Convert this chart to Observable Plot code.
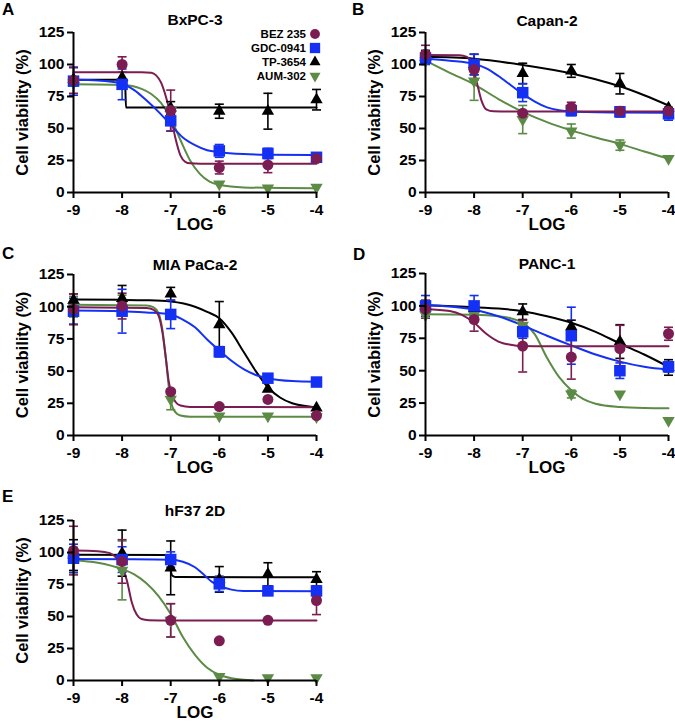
<!DOCTYPE html>
<html>
<head>
<meta charset="utf-8">
<script src="https://cdn.jsdelivr.net/npm/d3@7"></script>
<script src="https://cdn.jsdelivr.net/npm/@observablehq/plot@0.6"></script>
<style>
  html, body { margin: 0; padding: 0; background: #fff; }
  body { font-family: "Liberation Sans", Arial, sans-serif; }
  #root { position: relative; width: 675px; height: 722px; overflow: hidden; }
  .panel { position: absolute; }
  .letter { position: absolute; font-weight: bold; font-size: 17px; line-height: 17px; }
  .legend { position: absolute; font-weight: bold; font-size: 11.5px; }
  .legend .row { display: flex; justify-content: flex-end; align-items: center; height: 14px; }
  .legend svg { margin-left: 2px; }
</style>
</head>
<body>
<div id="root"></div>
<script>
// ---------------- data ----------------
const doses = [-9, -8, -7, -6, -5, -4];
const yTicks = [0, 25, 50, 75, 100, 125];
const drugs = ["BEZ 235", "GDC-0941", "TP-3654", "AUM-302"];
const drugColors = ["#7b1d52", "#1430f5", "#000000", "#5b8b45"];
const cellLines = ["BxPC-3", "Capan-2", "MIA PaCa-2", "PANC-1", "hF37 2D"];
const panelLetters = ["A", "B", "C", "D", "E"];
const xLabel = "LOG";
const yLabel = "Cell viability (%)";

// order of rows in each array: BEZ 235, GDC-0941, TP-3654, AUM-302
const bxpc3Mean = [
  [87.5, 100, 64, 19.5, 21.5, 26.5],
  [87, 84.5, 56, 32.5, 30.5, 27.5],
  [88.5, 90, 66, 63.5, 63.5, 72.5],
  [85.5, 85, 64, 6.5, 3.5, 4]
];
const bxpc3Err = [
  [10, 6, 16, 5, 6, 2],
  [11, 12, 8, 5, 4, 2],
  [0, 0, 5, 5.5, 14, 8],
  [0, 0, 0, 0, 0, 0]
];
const bxpc3Fit = [
  [[-9,94],[-7.6,94],[-7.4,93.5],[-7.3,91.5],[-7.2,86],[-7.1,75],[-7.0,60],[-6.9,42],[-6.8,29],[-6.7,24],[-6.6,22.8],[-6.4,22.5],[-4,22.5]],
  [[-9,88],[-8.5,87.5],[-8,85],[-7.75,80],[-7.5,72],[-7.25,63],[-7,53],[-6.75,43],[-6.5,37],[-6.25,33],[-6,31.5],[-5.5,30],[-5,29.5],[-4,29.3]],
  [[-9,88],[-7.94,88],[-7.92,66.5],[-4,66.5]],
  [[-9,84.5],[-8,84],[-7.6,81],[-7.4,77],[-7.2,70],[-7.0,58],[-6.8,41],[-6.6,25],[-6.4,14.5],[-6.2,8.5],[-6,6],[-5.5,4],[-4,3.3]]
];

const capan2Mean = [
  [108, 96, 62, 66.5, 63.5, 63.5],
  [105, 100, 78, 64, 63, 61.5],
  [106, 100, 93, 95, 85, 66],
  [103, 87, 57, 48, 37, 26.5]
];
const capan2Err = [
  [7, 8, 0, 4, 3, 3],
  [5, 8, 7, 4, 4, 5],
  [5, 8, 8, 5, 8, 0],
  [0, 15, 11, 5.5, 4, 0]
];
const capan2Fit = [
  [[-9,107.5],[-8.3,107.3],[-8.15,106],[-8.05,101],[-7.95,87],[-7.85,72],[-7.75,65],[-7.6,63.4],[-7.3,63.2],[-4,63.2]],
  [[-9,104.5],[-8.5,103],[-8,100.5],[-7.75,97],[-7.5,91],[-7.25,84],[-7,77],[-6.75,71],[-6.5,66.5],[-6.25,64.2],[-6,63.3],[-5,62.5],[-4,62.3]],
  [[-9,106],[-8,104.5],[-7,99.6],[-6,93],[-5.5,88.5],[-5,83],[-4.5,76],[-4,68]],
  [[-9,103],[-8.5,93.5],[-8,84.5],[-7.5,73],[-7,63],[-6.5,55],[-6,48.5],[-5.5,43],[-5,38],[-4.5,32],[-4,26.5]]
];

const miaMean = [
  [98, 100.5, 34, 22.5, 28, 15.5],
  [96.5, 96.5, 94, 65, 44.5, 41.5],
  [105, 106.5, 110, 86, 36, 21.5],
  [100, 102, 28, 15, 15, 14.5]
];
const miaErr = [
  [12, 10, 0, 0, 0, 0],
  [10, 17, 11, 4, 3, 0],
  [5, 10, 5, 18, 0, 0],
  [8, 7, 8, 0, 0, 0]
];
const miaFit = [
  [[-9,99.5],[-7.5,99],[-7.35,97.5],[-7.25,93],[-7.17,80],[-7.1,60],[-7.04,42],[-6.98,32],[-6.9,26],[-6.8,23.3],[-6.6,22.2],[-4,22]],
  [[-9,97],[-8,96.5],[-7.5,95.5],[-7,94],[-6.75,90],[-6.5,84],[-6.25,74.5],[-6,66],[-5.75,58],[-5.5,51.5],[-5.25,47],[-5,44.5],[-4.5,42.3],[-4,41.8]],
  [[-9,105.5],[-8,105.3],[-7.5,105],[-7,104],[-6.5,100],[-6.25,96],[-6,91],[-5.75,80],[-5.5,65],[-5.25,50],[-5,37.5],[-4.75,29.5],[-4.5,25],[-4,21.8]],
  [[-9,101.5],[-7.5,101],[-7.35,99.5],[-7.25,95],[-7.17,82],[-7.1,60],[-7.04,38],[-6.98,24],[-6.9,18],[-6.8,15.5],[-6.6,14.6],[-4,14.5]]
];

const panc1Mean = [
  [97.5, 89.5, 69, 60.5, 67, 78.5],
  [100, 100, 80, 77, 50, 53],
  [100, 98, 95.5, 84, 72.5, 52.5],
  [93, 93, 85, 32, 32, 11.5]
];
const panc1Err = [
  [7, 9, 20, 17, 18, 5],
  [8, 8, 5, 22, 6, 4],
  [0, 0, 6, 5, 13, 6],
  [0, 0, 0, 3, 0, 0]
];
const panc1Fit = [
  [[-9,97.5],[-8.5,96],[-8.25,93],[-8,87],[-7.75,78.5],[-7.5,72.5],[-7.25,70],[-7,69],[-6.5,68.8],[-4,68.8]],
  [[-9,100.5],[-8.5,99.5],[-8,97],[-7.5,92],[-7,85],[-6.5,77],[-6,69.5],[-5.5,62.5],[-5,57],[-4.5,53],[-4,50.8]],
  [[-9,100.5],[-8,99],[-7,95.9],[-6.5,92],[-6,87],[-5.5,80],[-5,71],[-4.5,62.5],[-4,53]],
  [[-9,93.5],[-8,93.2],[-7.5,92],[-7.25,90.5],[-7,87],[-6.75,78],[-6.5,60],[-6.25,45],[-6,35],[-5.75,28],[-5.5,24.5],[-5,22],[-4.5,21.2],[-4,21]]
];

const hf37Mean = [
  [101.5, 93, 47, 31, 47, 62.5],
  [95.5, 94.5, 94.5, 75.5, 70, 70],
  [98, 99.5, 88, 79, 83, 79],
  [94, 86, 47, 3, 2, 2]
];
const hf37Err = [
  [19, 17, 13, 0, 0, 11],
  [11, 10, 6, 6, 3, 4],
  [12, 18, 21, 10, 9, 6],
  [10, 23, 13, 0, 0, 0]
];
const hf37Fit = [
  [[-9,101.5],[-8.5,101],[-8.25,99.5],[-8.1,95],[-8,89],[-7.9,78],[-7.8,61],[-7.7,51.5],[-7.6,48],[-7.45,47.1],[-7,46.9],[-4,46.9]],
  [[-9,95],[-8,94.8],[-7,94.4],[-6.75,92.8],[-6.5,88.5],[-6.3,82],[-6.15,77],[-6,74],[-5.75,71],[-5.5,70],[-4,69.7]],
  [[-9,98.2],[-7.08,98],[-7.02,90],[-6.97,82],[-6.9,80.8],[-4,80.7]],
  [[-9,94],[-8.5,92],[-8,87],[-7.75,83],[-7.5,76],[-7.25,66],[-7,52],[-6.75,34],[-6.5,20],[-6.25,10],[-6,4.5],[-5.75,1.8],[-5.5,0.5],[-5.3,0]]
];

const panelMeans = [bxpc3Mean, capan2Mean, miaMean, panc1Mean, hf37Mean];
const panelErrs = [bxpc3Err, capan2Err, miaErr, panc1Err, hf37Err];
const panelFits = [bxpc3Fit, capan2Fit, miaFit, panc1Fit, hf37Fit];

// ---------------- layout (styles only) ----------------
const layout = [
  {left: 0,   top: 0,   width: 337, height: 235, ml: 73, mr: 21, mt: 32, mb: 43, titleDy: -12, letterX: 2,   letterY: 1},
  {left: 337, top: 0,   width: 338, height: 235, ml: 88, mr: 7,  mt: 32, mb: 43, titleDy: -11, letterX: 352, letterY: 1},
  {left: 0,   top: 235, width: 337, height: 240, ml: 73, mr: 21, mt: 39, mb: 40, titleDy: -9,  letterX: 2,   letterY: 245},
  {left: 337, top: 235, width: 338, height: 240, ml: 88, mr: 7,  mt: 38, mb: 40, titleDy: -9,  letterX: 353, letterY: 246},
  {left: 0,   top: 475, width: 337, height: 247, ml: 73, mr: 21, mt: 45, mb: 42, titleDy: -9,  letterX: 2,   letterY: 488}
];
const symbols = ["circle", "square", "triangle", "triangle"];
const symbolRotate = [0, 0, 0, 180];
const symbolR = [5.5, 6.5, 4.6, 4.6];
const drawOrder = [3, 2, 1, 0];

const capSymbol = {
  draw(context, size) {
    const w = Math.sqrt(size / Math.PI);
    context.moveTo(-w, 0);
    context.lineTo(w, 0);
  }
};

function pointRows(mean, err) {
  const rows = [];
  mean.forEach((vals, d) => vals.forEach((v, i) =>
    rows.push({di: d, x: doses[i], y: v, e: err[d][i]})));
  return rows;
}
function fitRows(fit) {
  const rows = [];
  fit.forEach((pts, d) => pts.forEach(([x, y]) => rows.push({di: d, x, y})));
  return rows;
}

const root = document.getElementById("root");

cellLines.forEach((name, p) => {
  const L = layout[p];
  const pts = pointRows(panelMeans[p], panelErrs[p]);
  const fit = fitRows(panelFits[p]);
  const marks = [];
  drawOrder.forEach(d => {
    marks.push(Plot.line(fit.filter(r => r.di === d), {
      x: "x", y: "y", stroke: drugColors[d], strokeWidth: 2, curve: "monotone-x"
    }));
  });
  drawOrder.forEach(d => {
    const e = pts.filter(r => r.di === d && r.e > 0);
    marks.push(Plot.ruleX(e, {x: "x", y1: r => r.y - r.e, y2: r => r.y + r.e, stroke: drugColors[d], strokeWidth: 1.6}));
    marks.push(Plot.dot(e, {x: "x", y: r => r.y + r.e, symbol: capSymbol, r: 4.5, fill: "none", stroke: drugColors[d], strokeWidth: 1.6}));
    marks.push(Plot.dot(e, {x: "x", y: r => r.y - r.e, symbol: capSymbol, r: 4.5, fill: "none", stroke: drugColors[d], strokeWidth: 1.6}));
  });
  drawOrder.forEach(d => {
    marks.push(Plot.dot(pts.filter(r => r.di === d), {
      x: "x", y: "y", symbol: symbols[d], rotate: symbolRotate[d], r: symbolR[d],
      fill: drugColors[d], stroke: "none"
    }));
  });
  marks.push(Plot.ruleY([0], {strokeWidth: 2}));
  marks.push(Plot.ruleX([doses[0]], {strokeWidth: 2}));
  marks.push(Plot.axisX({ticks: doses, tickSize: 6, tickPadding: 5, strokeWidth: 2, fontSize: 15.5, label: null, tickFormat: d => String(d)}));
  marks.push(Plot.axisY({ticks: yTicks, tickSize: 6, tickPadding: 3, strokeWidth: 2, fontSize: 15.5, label: null, tickFormat: d => String(d)}));
  marks.push(Plot.text([xLabel], {text: d => d, frameAnchor: "bottom", dy: 32, lineAnchor: "middle", textAnchor: "middle", fontSize: 17}));
  marks.push(Plot.text([yLabel], {text: d => d, frameAnchor: "left", dx: -50.5, rotate: -90, lineAnchor: "middle", textAnchor: "middle", fontSize: 16.5}));
  marks.push(Plot.text([name], {text: d => d, frameAnchor: "top", dy: L.titleDy, lineAnchor: "middle", textAnchor: "middle", fontSize: 15.5}));

  const chart = Plot.plot({
    width: L.width, height: L.height,
    marginLeft: L.ml, marginRight: L.mr, marginTop: L.mt, marginBottom: L.mb,
    x: {domain: [doses[0], doses[doses.length - 1]]},
    y: {domain: [yTicks[0], yTicks[yTicks.length - 1]]},
    style: {fontFamily: "'Liberation Sans', Arial, sans-serif", fontWeight: "bold", background: "transparent", overflow: "visible", color: "#000"},
    marks
  });
  const box = document.createElement("div");
  box.className = "panel";
  box.style.left = L.left + "px";
  box.style.top = L.top + "px";
  box.appendChild(chart);
  root.appendChild(box);

  const letter = document.createElement("div");
  letter.className = "letter";
  letter.style.left = L.letterX + "px";
  letter.style.top = L.letterY + "px";
  letter.textContent = panelLetters[p];
  root.appendChild(letter);
});

// legend (panel A)
const legend = document.createElement("div");
legend.className = "legend";
legend.style.left = "220px";
legend.style.top = "27px";
legend.style.width = "102px";
drugs.forEach((name, d) => {
  const row = document.createElement("div");
  row.className = "row";
  const span = document.createElement("span");
  span.textContent = name;
  row.appendChild(span);
  const svg = d3.create("svg").attr("width", 14).attr("height", 14);
  const sym = {circle: d3.symbolCircle, square: d3.symbolSquare, triangle: d3.symbolTriangle}[symbols[d]];
  svg.append("path")
    .attr("d", d3.symbol(sym, Math.PI * symbolR[d] * symbolR[d] * 0.8)())
    .attr("transform", `translate(7,7) rotate(${symbolRotate[d]})`)
    .attr("fill", drugColors[d]);
  row.appendChild(svg.node());
  legend.appendChild(row);
});
root.appendChild(legend);
</script>
</body>
</html>
